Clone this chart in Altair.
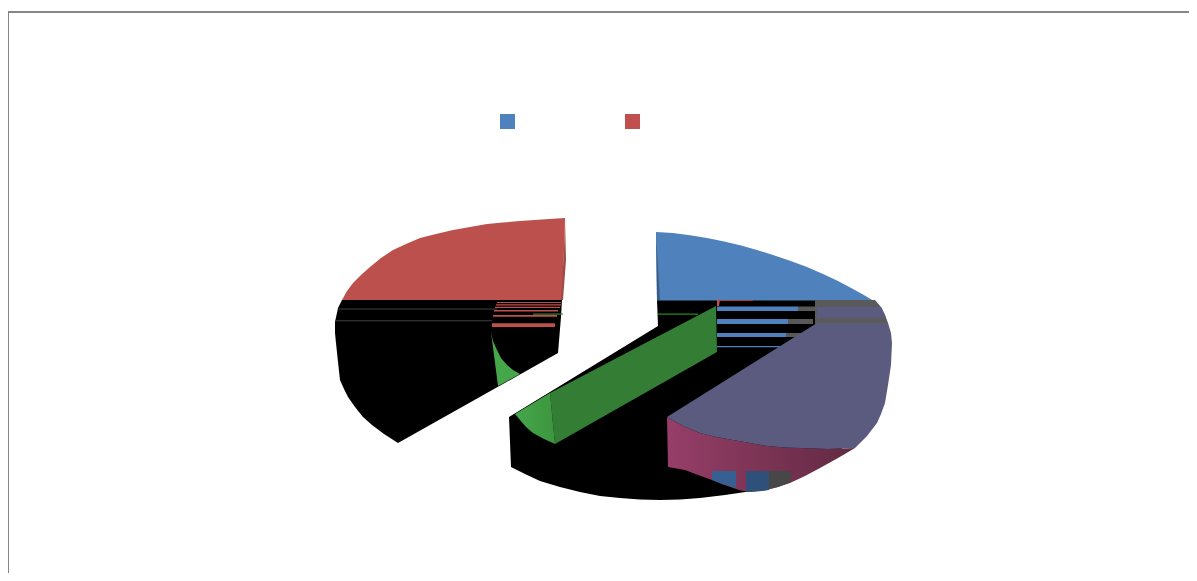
import altair as alt
import pandas as pd

# Every outline is a list of (x, y) readings, on a scale equal to its pixels.
black_left = [(342,300),(338,308),(335,322),(335,333),(336,343),(338,362),(340,380),(344,389),(348,397),(355,407),(363,417),(372,425),(384,434),(398,443),(558,353),(561,317),(562,300)]
red_top = [(342,300),(347,291),(353,283),(361,275),(370,267),(381,258),(393,250),(406,244),(420,238),(436,234),(453,230),(470,227),(487,224),(503,222.5),(520,221),(542,219.5),(565,218),(564,250),(562,300)]
red_edge = [(565,218),(566,260),(563,300),(561,300),(564,250)]
red_strips = [(497,561,302,303),(496,561,304.2,305.4),(495,560,306.7,308),(494,558,310,311.5),(493,557,315,316.7),(492,555,323.3,327)]
grey_lines = [(338.5,497,308.5,309.5),(336,492,320.2,321.2)]
green_thin = [(533,563,313.5,314.7)]
green_wedge = [(491,332),(493,341),(497,350),(501,358),(507,365),(513,370),(520,374),(498,386)]

black_base = [(657,300),(658,326),(509,417),(511,467),(525,474),(540,481),(560,487),(580,492),(600,496),(620,498),(640,499.5),(660,500),(680,499.5),(700,498),(725,495),(752,491),(860,440),(870,300)]
blue_top = [(656,232),(673,233),(690,235.2),(707,238),(723,241.3),(740,245.3),(757,250),(773,255),(790,260.8),(807,267),(823,274),(838,281),(853,289),(863,294.5),(873,300.5),(657,300.5)]
blue_edge = [(656,232),(660,300),(657,300)]
blue_strips = [(717,798,306.5,311),(717,788,319,324),(717,786,333,337),(717,780,346,347.3)]
grey_strips = [(798,815,306.5,311),(788,813,319,324),(786,803,333,337)]
red_notch = [(717,299.5),(720,299.5),(719,306),(717,306)]
red_thin = [(720,753,300,301)]
green_line = [(658,698,313.6,314.8)]
green_dark = [(716,306),(717,352),(555,444),(550,393)]
green_light = [(550,393),(555,444),(544,439),(533,433),(526,427),(520,420),(515,414)]

grey_back = [(815,300),(875,300),(881,307),(885,315),(888,323),(815,324)]
purple_band = [(817,307),(881,307),(884,313),(886,318),(817,318)]
purple_top = [(817,323),(888,323),(891,333),(892,343),(891,365),(888,385),(885,403),(881,414),(877,423),(867,436),(855,448),(828,449),(800,448),(784,447.5),(767,446),(750,443),(733,440),(716,437),(700,433),(683,426),(667,417)]
magenta_side = [(667,417),(683,426),(700,433),(716,437),(733,440),(750,443),(767,446),(784,447.5),(800,448),(828,449),(855,448),(838,458),(820,468),(805,476),(790,483),(778,487),(767,490),(750,492),(741,490.5),(733,488),(722,484),(712,480),(698,475),(685,470),(668,467)]
side_blue = [(712,471),(736,471),(736,488),(722,484),(712,480)]
side_dark = [(746,471),(769,471),(769,490),(757,491.5),(746,492)]
side_grey = [(769,471),(791,471),(791,482),(778,487),(769,489)]

legend_x = [507.5, 632.5]
legend_y = [121.5, 121.5]
legend_colors = ["#4f81bd", "#c0504d"]
frame_top = [(8,1189,11,13)]
frame_left = [(8,9,11,573)]

X = alt.Scale(domain=[8, 1189], range=[0, 1181])
Y = alt.Scale(domain=[8, 573], range=[0, 565])

def band(b):
    return [(b[0],b[2]),(b[1],b[2]),(b[1],b[3]),(b[0],b[3])]

def poly(points, fill):
    df = pd.DataFrame(points, columns=["x", "y"])
    df["i"] = range(len(df))
    return alt.Chart(df).mark_line(fill=fill, strokeWidth=0, strokeOpacity=0).encode(
        x=alt.X("x:Q", scale=X, axis=None),
        y=alt.Y("y:Q", scale=Y, axis=None),
        order=alt.Order("i:Q"),
    )

def grad(c1, c2):
    return alt.Gradient(gradient="linear", x1=0, x2=1, y1=0, y2=0,
                        stops=[alt.GradientStop(color=c1, offset=0), alt.GradientStop(color=c2, offset=1)])

layers = [
    poly(black_left, "#000000"),
    poly(red_top, "#bc504d"),
    poly(red_edge, "#a04a47"),
    poly(green_wedge, "#46a64a"),
]
layers += [poly(band(b), "#bc504d") for b in red_strips]
layers += [poly(band(b), "#404040") for b in grey_lines]
layers += [poly(band(b), "#2f8a2f") for b in green_thin]
layers += [
    poly(black_base, "#000000"),
    poly(blue_top, "#4f81bd"),
    poly(blue_edge, "#3a5d85"),
]
layers += [poly(band(b), "#4f81bd") for b in blue_strips]
layers += [poly(band(b), "#585858") for b in grey_strips]
layers += [poly(red_notch, "#c0504d")]
layers += [poly(band(b), "#a83c3a") for b in red_thin]
layers += [poly(band(b), "#1f8a1f") for b in green_line]
layers += [
    poly(green_dark, "#337d35"),
    poly(green_light, grad("#46a64a", "#3c963f")),
    poly(grey_back, "#5a5a5a"),
    poly(purple_band, "#5b5b80"),
    poly(magenta_side, grad("#963e68", "#622a42")),
    poly(side_blue, "#376092"),
    poly(side_dark, "#2f5078"),
    poly(side_grey, "#474747"),
    poly(purple_top, "#5b5b80"),
]
layers += [poly(band(b), "#868686") for b in frame_top + frame_left]

legend_df = pd.DataFrame({"x": legend_x, "y": legend_y, "c": legend_colors})
layers.append(
    alt.Chart(legend_df).mark_square(size=225, filled=True, opacity=1).encode(
        x=alt.X("x:Q", scale=X, axis=None),
        y=alt.Y("y:Q", scale=Y, axis=None),
        color=alt.Color("c:N", scale=None),
    )
)

chart = alt.layer(*layers).properties(width=1181, height=565, padding=0, autosize="none").configure_view(strokeWidth=0)
chart.save("out.html", embed_options={"renderer": "svg", "actions": False})
